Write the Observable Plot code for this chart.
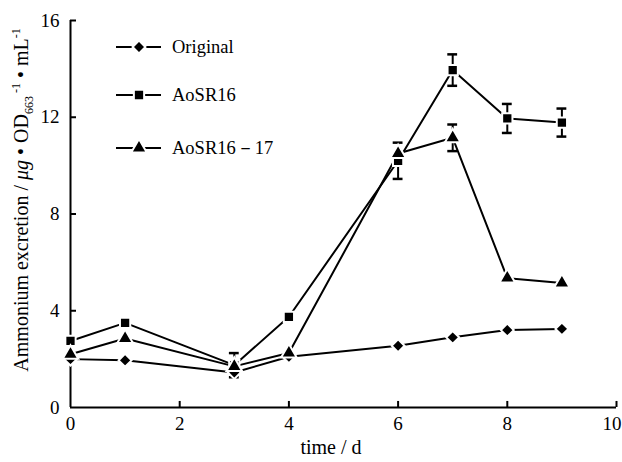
<!DOCTYPE html>
<html>
<head>
<meta charset="utf-8">
<script src="https://cdn.jsdelivr.net/npm/d3@7"></script>
<script src="https://cdn.jsdelivr.net/npm/@observablehq/plot@0.6"></script>
<style>
  html, body { margin: 0; padding: 0; background: #fff; }
  #chart svg { display: block; }
</style>
</head>
<body>
<div id="chart"></div>
<script>
// ---- data ----
const days = [0, 1, 3, 4, 6, 7, 8, 9];
const seriesNames = ["Original", "AoSR16", "AoSR16－17"];
const original   = [2.0, 1.95, 1.45, 2.1, 2.55, 2.9, 3.2, 3.25];
const aosr16     = [2.75, 3.5, 1.75, 3.75, 10.2, 13.95, 11.95, 11.78];
const aosr16_17  = [2.2, 2.85, 1.7, 2.25, 10.5, 11.15, 5.35, 5.15];
const aosr16Err    = [0, 0, 0.5, 0, 0.75, 0.65, 0.6, 0.58];
const aosr16_17Err = [0, 0, 0, 0, 0, 0.55, 0, 0];
const xTicks = [0, 2, 4, 6, 8, 10];
const yTicks = [0, 4, 8, 12, 16];
const symbols = ["diamond2", "square", "triangle"];

const seriesValues = [original, aosr16, aosr16_17];
const seriesErrs = [null, aosr16Err, aosr16_17Err];
const rows = [];
seriesNames.forEach((name, i) => {
  days.forEach((d, j) => {
    rows.push({series: name, day: d, value: seriesValues[i][j],
               err: seriesErrs[i] ? seriesErrs[i][j] : 0, symbol: symbols[i]});
  });
});
const errRows = rows.filter(r => r.err > 0);

const font = "'Liberation Serif', 'Times New Roman', serif";
const capHalf = 0.09;

const plot = Plot.plot({
  width: 622,
  height: 462,
  marginLeft: 70,
  marginRight: 6,
  marginTop: 20,
  marginBottom: 55,
  style: {fontFamily: font, fontSize: "19px", color: "#000", background: "#fff"},
  x: {domain: [0, 10]},
  y: {domain: [0, 16]},
  marks: [
    // axis lines
    Plot.ruleX([0], {stroke: "#000", strokeWidth: 2}),
    Plot.ruleY([0], {stroke: "#000", strokeWidth: 2}),
    // inward ticks
    Plot.ruleY(yTicks.filter(t => t > 0), {y: d => d, x1: 0, x2: 0.11, stroke: "#000", strokeWidth: 2}),
    Plot.ruleX(xTicks.filter(t => t > 0), {x: d => d, y1: 0, y2: 0.25, stroke: "#000", strokeWidth: 2}),
    Plot.axisY({ticks: yTicks, tickSize: 0, tickPadding: 11, label: null, fontSize: 19, tickFormat: d => d}),
    Plot.axisX({ticks: xTicks, tickSize: 0, tickPadding: 9, label: null, fontSize: 19, tickFormat: d => d}),
    // series lines
    Plot.line(rows, {x: "day", y: "value", z: "series", stroke: "#000", strokeWidth: 2}),
    // error bars
    Plot.ruleX(errRows, {x: "day", y1: r => r.value - r.err, y2: r => r.value + r.err, stroke: "#000", strokeWidth: 2}),
    Plot.ruleY(errRows, {y: r => r.value + r.err, x1: r => r.day - capHalf, x2: r => r.day + capHalf, stroke: "#000", strokeWidth: 2.5}),
    Plot.ruleY(errRows, {y: r => r.value - r.err, x1: r => r.day - capHalf, x2: r => r.day + capHalf, stroke: "#000", strokeWidth: 2.5}),
    // markers
    Plot.dot(rows, {x: "day", y: "value", symbol: "symbol", r: 5.8, fill: "#000", stroke: "#fff", strokeWidth: 2})
  ]
});
document.getElementById("chart").appendChild(plot);

const svg = d3.select(plot);
// keep the "10" label inside the picture (right-aligned at the axis end, as in the reference)
svg.selectAll("text")
  .filter(function() { return this.textContent.trim() === "10"; })
  .attr("text-anchor", "end").attr("dx", 5);

// y axis label with sub/superscripts
const yl = svg.append("text")
  .attr("transform", "translate(28,200) rotate(-90)")
  .attr("text-anchor", "middle")
  .style("font-family", font)
  .style("font-size", "20px")
  .attr("fill", "#000");
yl.append("tspan").text("Ammonium excretion / ");
yl.append("tspan").style("font-style", "italic").text("μg");
yl.append("tspan").text(" • OD");
yl.append("tspan").attr("dy", 5).style("font-size", "12px").text("663");
yl.append("tspan").attr("dy", -13).style("font-size", "12px").text(" -1");
yl.append("tspan").attr("dy", 8).text(" • mL");
yl.append("tspan").attr("dy", -8).style("font-size", "12px").text("-1");

// x axis label
svg.append("text")
  .attr("x", 331).attr("y", 454)
  .attr("text-anchor", "middle")
  .style("font-family", font).style("font-size", "20px")
  .attr("fill", "#000")
  .text("time / d");

// legend
const legendY = [47, 95, 148];
seriesNames.forEach((name, i) => {
  const g = svg.append("g").attr("transform", `translate(0,${legendY[i]})`);
  g.append("line").attr("x1", 116).attr("x2", 161).attr("y1", 0).attr("y2", 0)
    .attr("stroke", "#000").attr("stroke-width", 2);
  const sym = {diamond2: d3.symbolDiamond2, square: d3.symbolSquare, triangle: d3.symbolTriangle}[symbols[i]];
  g.append("path").attr("d", d3.symbol(sym, Math.PI * 5.8 * 5.8)())
    .attr("transform", "translate(139,0)")
    .attr("fill", "#000").attr("stroke", "#fff").attr("stroke-width", 2);
  g.append("text").attr("x", 172).attr("y", 6)
    .attr("text-anchor", "start")
    .style("font-family", font).style("font-size", "18.5px")
    .attr("fill", "#000").text(name);
});
</script>
</body>
</html>
